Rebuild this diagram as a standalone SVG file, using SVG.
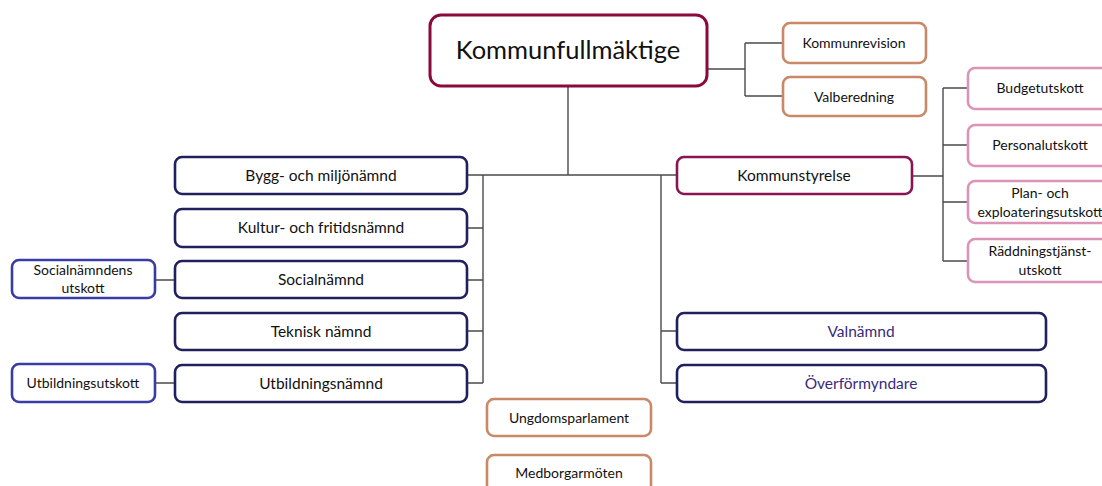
<svg xmlns="http://www.w3.org/2000/svg" width="1102" height="486" viewBox="0 0 1102 486">
<style>
text{font-family:Lato,"Liberation Sans",sans-serif;fill:#111;text-anchor:middle}
.b{fill:#fff;stroke-width:2.6}
.kf{stroke:#8a0b3b;stroke-width:3}
.or{stroke:#c98868}
.pk{stroke:#dc93b8}
.ks{stroke:#8a1453}
.nv{stroke:#20205e}
.bl{stroke:#3a3ca6}
.c{fill:none;stroke:#4a4a4a;stroke-width:1.4}
.s14{font-size:14px}
.s15{font-size:15.5px}
.pu{fill:#3a2a7a}
</style>
<g id="connectors">
<path class="c" d="M568 86V175M467 175H677M483 175V383M661 175V383"/>
<path class="c" d="M467 228H483M467 280H483M467 331H483M467 383H483"/>
<path class="c" d="M661 331H677M661 383H677"/>
<path class="c" d="M707 69H745M745 43V96M745 43H783M745 96H783"/>
<path class="c" d="M912 176H943M943 88V261M943 88H968M943 145H968M943 202H968M943 261H968"/>
<path class="c" d="M155 280H175M155 383H175"/>
</g>
<g id="kommunfullmaktige"><rect class="b kf" x="430" y="15" width="277" height="71" rx="11"/><text x="568" y="59" font-size="25.5">Kommunfullmäktige</text></g>
<g id="kommunrevision"><rect class="b or" x="783" y="23" width="143" height="40" rx="7"/><text class="s14" x="854" y="48">Kommunrevision</text></g>
<g id="valberedning"><rect class="b or" x="783" y="77" width="143" height="39" rx="7"/><text class="s14" x="854" y="102">Valberedning</text></g>
<g id="kommunstyrelse"><rect class="b ks" x="677" y="157" width="235" height="37" rx="7"/><text class="s15" x="794" y="181">Kommunstyrelse</text></g>
<g id="budgetutskott"><rect class="b pk" x="968" y="68" width="144" height="41" rx="7"/><text class="s14" x="1040" y="93">Budgetutskott</text></g>
<g id="personalutskott"><rect class="b pk" x="968" y="125" width="144" height="41" rx="7"/><text class="s14" x="1040" y="150">Personalutskott</text></g>
<g id="planutskott"><rect class="b pk" x="968" y="181" width="144" height="42" rx="7"/><text class="s14" x="1040" y="198">Plan- och</text><text class="s14" x="1040" y="217">exploateringsutskott</text></g>
<g id="raddningsutskott"><rect class="b pk" x="968" y="239" width="144" height="43" rx="7"/><text class="s14" x="1040" y="256">Räddningstjänst-</text><text class="s14" x="1040" y="275">utskott</text></g>
<g id="bygg"><rect class="b nv" x="175" y="157" width="292" height="37" rx="7"/><text class="s15" x="321" y="181">Bygg- och miljönämnd</text></g>
<g id="kultur"><rect class="b nv" x="175" y="209" width="292" height="38" rx="7"/><text class="s15" x="321" y="233">Kultur- och fritidsnämnd</text></g>
<g id="social"><rect class="b nv" x="175" y="261" width="292" height="37" rx="7"/><text class="s15" x="321" y="285">Socialnämnd</text></g>
<g id="teknisk"><rect class="b nv" x="175" y="313" width="292" height="37" rx="7"/><text class="s15" x="321" y="337">Teknisk nämnd</text></g>
<g id="utbildning"><rect class="b nv" x="175" y="365" width="292" height="37" rx="7"/><text class="s15" x="321" y="389">Utbildningsnämnd</text></g>
<g id="socialutskott"><rect class="b bl" x="12" y="260" width="143" height="38" rx="7"/><text class="s14" x="83" y="275">Socialnämndens</text><text class="s14" x="83" y="293">utskott</text></g>
<g id="utbildningsutskott"><rect class="b bl" x="12" y="364" width="143" height="38" rx="7"/><text class="s14" x="83" y="388">Utbildningsutskott</text></g>
<g id="valnamnd"><rect class="b nv" x="677" y="313" width="369" height="37" rx="7"/><text class="s15 pu" x="861" y="337">Valnämnd</text></g>
<g id="overformyndare"><rect class="b nv" x="677" y="365" width="369" height="37" rx="7"/><text class="s15 pu" x="861" y="389">Överförmyndare</text></g>
<g id="ungdomsparlament"><rect class="b or" x="487" y="399" width="164" height="37" rx="7"/><text class="s14" x="569" y="423">Ungdomsparlament</text></g>
<g id="medborgarmoten"><rect class="b or" x="487" y="455" width="164" height="40" rx="7"/><text class="s14" x="569" y="478">Medborgarmöten</text></g>
</svg>
